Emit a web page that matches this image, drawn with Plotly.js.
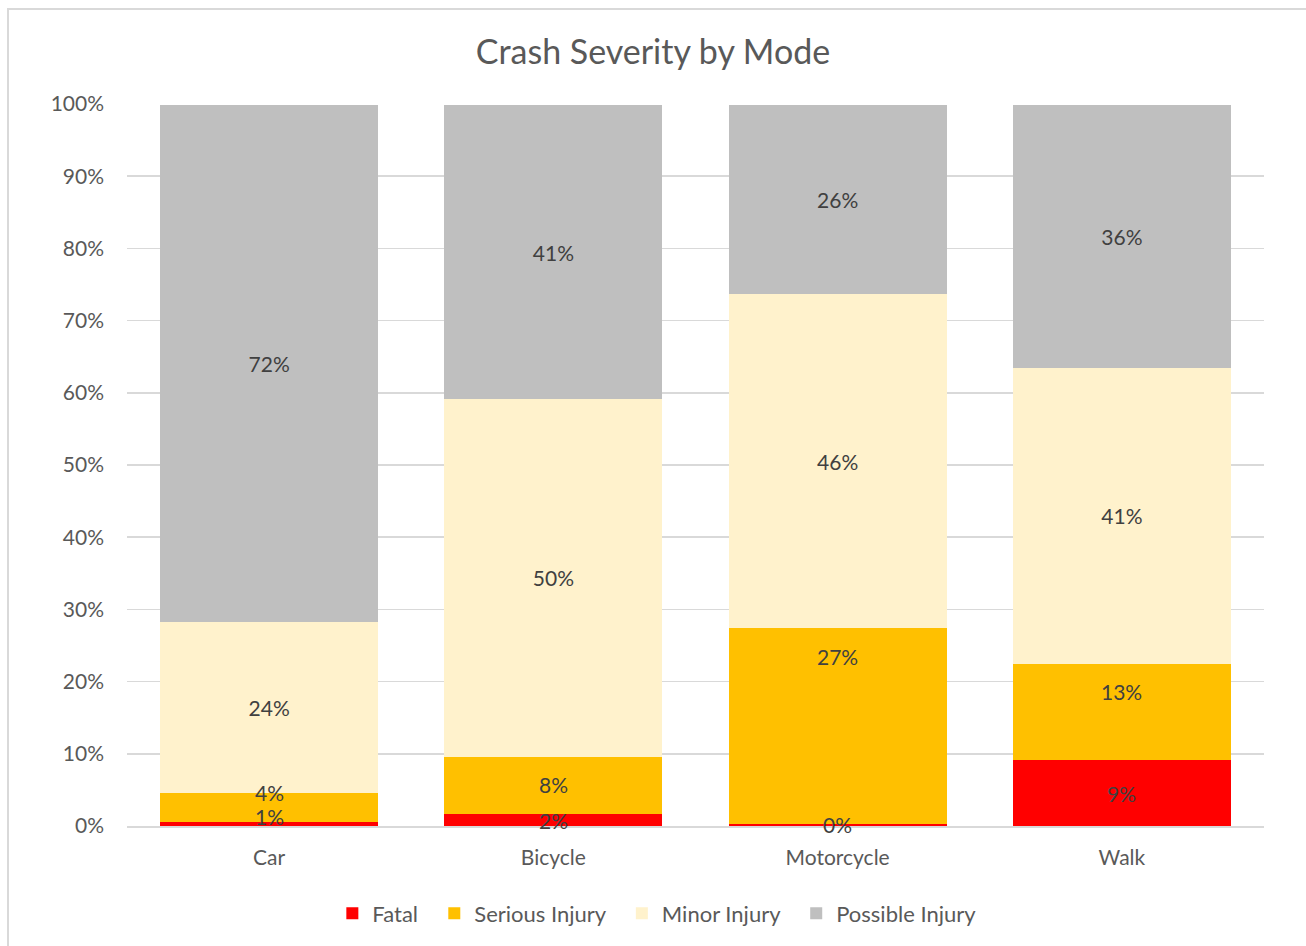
<!DOCTYPE html>
<html>
<head>
<meta charset="utf-8">
<script src="https://cdn.plot.ly/plotly-3.0.1.min.js"></script>
<style>
  html, body { margin: 0; padding: 0; background: #fff; }
  #wrap { position: relative; width: 1306px; height: 946px; }
  #chart { width: 1306px; height: 946px; }
  #frame { position: absolute; left: 7px; top: 8px; width: 1320px; height: 960px; border: 2px solid #D9D9D9; pointer-events: none; }
</style>
</head>
<body>
<div id="wrap">
  <div id="chart"></div>
  <div id="frame"></div>
</div>
<script>
const categories = ["Car", "Bicycle", "Motorcycle", "Walk"];
const fatal    = [0.006, 0.016, 0.003, 0.091];
const serious  = [0.040, 0.080, 0.271, 0.134];
const minor    = [0.237, 0.495, 0.463, 0.410];
const possible = [0.716, 0.408, 0.262, 0.364];
const seriesNames = ["Fatal", "Serious Injury", "Minor Injury", "Possible Injury"];
const seriesColors = ["#FF0000", "#FFC000", "#FFF2CC", "#BFBFBF"];
const seriesValues = [fatal, serious, minor, possible];

const FONT = "Lato, 'Open Sans', sans-serif";
const LABEL_FONT = { family: FONT, size: 21, color: "#404040" };

// plot geometry (for label placement in pixels)
const PLOT_H = 946 - 104 - 120;
const pxPerUnit = PLOT_H / 1.0;
const LEGEND_PAD = "\u00A0\u00A0";

const traces = seriesValues.map((vals, i) => ({
  type: "bar",
  name: seriesNames[i] + (i < seriesNames.length - 1 ? LEGEND_PAD : ""),
  x: categories,
  y: vals,
  marker: { color: seriesColors[i], line: { width: 0 } },
  texttemplate: i >= 2 ? "%{y:.0%}" : "",
  textposition: i >= 2 ? "inside" : "none",
  insidetextanchor: "middle",
  constraintext: "none",
  textangle: 0,
  textfont: LABEL_FONT,
  hoverinfo: "skip",
  cliponaxis: false
}));

function pct(v) { return Math.round(v * 100) + "%"; }

// Fatal and serious labels as annotations so they sit above every bar (like the source)
const annotations = [];
categories.forEach((c, k) => {
  const segTop = fatal[k] + serious[k];
  const segPx = serious[k] * pxPerUnit;
  const seriousShift = segPx >= 40 ? -28 : 0;
  annotations.push({
    x: c, y: segTop, xref: "x", yref: "y",
    text: pct(serious[k]), showarrow: false,
    yanchor: "middle", yshift: seriousShift,
    font: LABEL_FONT
  });
  const fatalCenterPx = (fatal[k] / 2) * pxPerUnit;
  const seriousCenterPx = segTop * pxPerUnit + seriousShift;
  let fShift = 0;
  if (seriousCenterPx - fatalCenterPx < 32) {
    fShift = (seriousCenterPx - 24) - fatalCenterPx;
  }
  annotations.push({
    x: c, y: fatal[k] / 2, xref: "x", yref: "y",
    text: pct(fatal[k]), showarrow: false,
    yanchor: "middle", yshift: fShift,
    font: LABEL_FONT
  });
});

const layout = {
  width: 1306,
  height: 946,
  barmode: "stack",
  bargap: 0.233,
  paper_bgcolor: "#FFFFFF",
  plot_bgcolor: "#FFFFFF",
  margin: { l: 127, r: 42, t: 104, b: 120 },
  title: {
    text: "Crash Severity by Mode",
    font: { family: FONT, size: 34, color: "#595959" },
    x: 0.5, xanchor: "center",
    y: 0.945, yanchor: "middle"
  },
  xaxis: {
    type: "category",
    tickfont: { family: FONT, size: 21, color: "#595959" },
    showline: true, linecolor: "#D9D9D9", linewidth: 2,
    ticks: "", showgrid: false, zeroline: false,
    ticklabelstandoff: 12
  },
  yaxis: {
    range: [0, 1],
    tickvals: [0, 0.1, 0.2, 0.3, 0.4, 0.5, 0.6, 0.7, 0.8, 0.9, 1.0],
    tickformat: ".0%",
    tickfont: { family: FONT, size: 21, color: "#595959" },
    showgrid: true, gridcolor: "#D9D9D9", gridwidth: 1.5,
    zeroline: false, showline: false, ticks: "",
    ticklabelstandoff: 22
  },
  annotations: annotations,
  legend: {
    orientation: "h",
    x: 0.466, xanchor: "center",
    y: -0.121, yanchor: "middle",
    font: { family: FONT, size: 22, color: "#595959" },
    traceorder: "normal",
    itemwidth: 30
  },
  showlegend: true
};

Plotly.newPlot("chart", traces, layout, { displayModeBar: false, staticPlot: true });
</script>
</body>
</html>
